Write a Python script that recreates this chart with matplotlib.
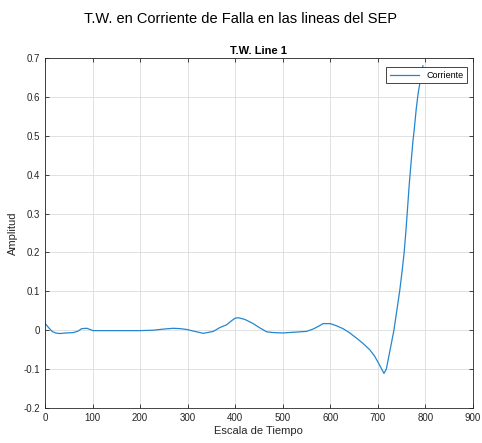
import matplotlib
matplotlib.use('Agg')
import matplotlib.pyplot as plt

plt.rcParams['font.family'] = ['Liberation Sans', 'DejaVu Sans']

# valores
tiempo = [0, 8, 15, 22, 31, 45, 60, 70, 77, 88, 101, 130, 160, 200, 227, 250, 270, 285,
          298, 315, 333, 354, 368, 382, 392, 400, 407, 420, 438, 452, 466, 480, 501, 525,
          550, 564, 575, 585, 600, 612, 627, 640, 655, 668, 683, 693, 700, 707, 713, 718,
          726, 734, 740, 746, 751, 755.5, 759.5, 763, 766.5, 770, 773.5, 777, 781, 785,
          790, 795]
amplitud = [0.018, 0.006, -0.003, -0.007, -0.0085, -0.007, -0.006, -0.002, 0.004, 0.005,
            -0.001, -0.001, -0.001, -0.001, 0.0, 0.003, 0.005, 0.004, 0.002, -0.003, -0.008,
            -0.003, 0.007, 0.014, 0.024, 0.031, 0.032, 0.028, 0.017, 0.006, -0.004, -0.006,
            -0.007, -0.005, -0.003, 0.003, 0.01, 0.017, 0.017, 0.012, 0.004, -0.006, -0.02,
            -0.033, -0.05, -0.066, -0.081, -0.097, -0.111, -0.1, -0.05, 0.0, 0.05, 0.1,
            0.15, 0.2, 0.26, 0.32, 0.38, 0.43, 0.48, 0.52, 0.57, 0.61, 0.645, 0.68]

xticks = [0, 100, 200, 300, 400, 500, 600, 700, 800, 900]
yticks = [-0.2, -0.1, 0, 0.1, 0.2, 0.3, 0.4, 0.5, 0.6, 0.7]

fig = plt.figure(figsize=(4.82, 4.43), dpi=100)
ax = fig.add_axes([0.0934, 0.079, 0.8876, 0.790])

ax.plot(tiempo, amplitud, color='#2386cf', linewidth=0.9, label='Corriente')

ax.set_xlim(0, 900)
ax.set_ylim(-0.2, 0.7)
ax.set_xticks(xticks)
ax.set_yticks(yticks)
ax.set_xticklabels([str(t) for t in xticks])
ax.set_yticklabels(['-0.2', '-0.1', '0', '0.1', '0.2', '0.3', '0.4', '0.5', '0.6', '0.7'])
ax.tick_params(direction='in', top=True, right=True, labelsize=7, colors='#262626',
               length=3, width=0.6)
ax.grid(True, color='#dcdcdc', linewidth=0.6)
for sp in ax.spines.values():
    sp.set_color('#262626')
    sp.set_linewidth(0.6)

ax.set_xlabel('Escala de Tiempo', fontsize=8, color='#262626', labelpad=2)
ax.set_ylabel('Amplitud', fontsize=8, color='#262626', labelpad=4)
ax.set_title('T.W. Line 1', fontsize=8, fontweight='bold', pad=3)
fig.suptitle('T.W. en Corriente de Falla en las lineas del SEP', fontsize=10.5, y=0.972)

leg = ax.legend(loc='upper right', fontsize=6.5, fancybox=False, framealpha=1,
                edgecolor='#262626', borderpad=0.4, handlelength=3.2,
                borderaxespad=0, bbox_to_anchor=(0.986, 0.974))
leg.get_frame().set_linewidth(0.6)

fig.savefig('out.png', dpi=100)
